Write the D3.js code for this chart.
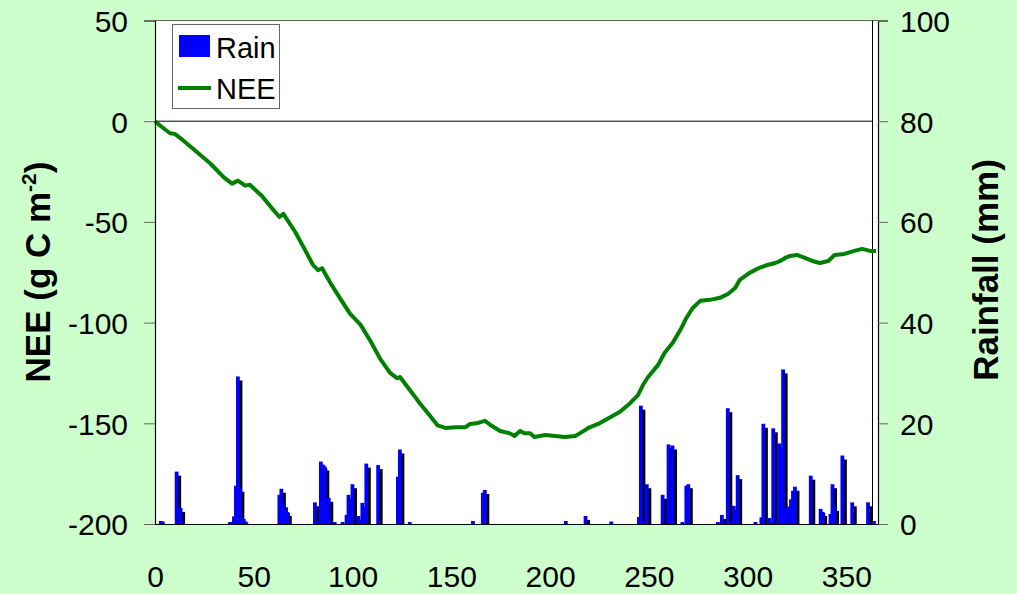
<!DOCTYPE html>
<html>
<head>
<meta charset="utf-8">
<script src="https://cdn.jsdelivr.net/npm/d3@7"></script>
<style>
  body { margin:0; background:#ccffcc; }
  svg { display:block; font-family:Arial, "Liberation Sans", sans-serif; }
</style>
</head>
<body>
<div id="canvas"></div>
<script>
// daily rainfall (day of year, mm)
var rainDays = [2,3,10,12,13,37,38,39,40,41,42,43,44,45,62,63,64,65,66,67,
    80,81,82,83,84,85,86,87,90,94,96,97,98,99,102,104,106,112,122,123,128,
    160,165,166,207,217,230,244,245,247,248,256,259,260,261,266,268,269,
    284,286,289,290,292,294,303,306,307,310,312,315,316,317,319,320,321,322,323,
    331,336,337,341,342,343,347,352,360,363];
var rainMm = [0.6,0.5,10.4,3.2,0.3,0.4,0.4,1.5,7.6,29.3,7.2,1.2,1.0,0.5,5.8,7.0,4.1,3.0,2.4,0.3,
    4.3,0.4,0.4,12.4,11.8,11.4,2.0,5.2,0.4,0.4,1.8,5.8,3.0,7.9,1.6,4.2,12.0,11.7,9.4,14.8,0.4,
    0.6,6.2,6.75,0.6,1.6,0.5,1.4,23.5,0.5,7.9,5.8,15.8,3.0,15.6,0.4,7.6,7.9,
    0.4,1.8,23.0,0.5,3.6,9.7,0.4,1.3,19.9,1.2,19.0,16.0,3.0,30.7,3.1,3.5,4.9,6.6,7.4,
    9.6,3.0,2.4,2.0,7.9,3.4,13.6,4.3,4.3,0.6];

// cumulative NEE (day of year, g C m-2)
var neeDays = [0,3,7.6,10,14,20,28,35,39,42,45.6,48,54,59,63,65,71,76,80,82.5,84.6,88.6,93.7,98.7,
    104,109,114,119,122.5,124,129,134,139,143,147,152,157,159.5,163.5,167,169.6,174.7,179.7,182,
    184.8,187,190,192,197.5,202.5,207.6,212.7,215,220,225,230,235.4,240.5,244.5,247,249.6,254.7,
    258,262.3,266,269,272,276,281,286,290,293.7,296,301,306,310,314,316.5,319,321.5,325,329,
    332.7,336.7,340.8,344,349,354,358,362,365];
var neeVals = [0,-2.5,-6,-6.3,-9.3,-14.3,-21,-28,-31,-29.5,-32,-31.6,-37,-43,-47.6,-46,-55,-64,-71.4,-74,-73,-80,-88,-95.5,
    -101,-109,-118,-125,-127.6,-127,-133.5,-140,-146,-151,-152.3,-152,-152,-150.3,-149.8,-148.8,-150.7,-153.8,-155,-156.3,
    -153.8,-155,-155,-156.8,-155.8,-156.3,-156.8,-156.3,-155,-152,-150,-147.3,-144.3,-140,-136,-131,-127,-121,
    -115,-109.7,-103.6,-97.7,-93,-89.2,-88.7,-87.7,-85.8,-82.8,-78.8,-75.3,-72.8,-71.4,-70.4,-69.4,-67.9,-66.9,-66.4,-67.9,
    -69.4,-70.4,-69.4,-66.4,-65.9,-64.4,-63.4,-64.4,-64.4];

var xTicks = [0,50,100,150,200,250,300,350];
var neeTicks = [-200,-150,-100,-50,0,50];
var rainTicks = [0,20,40,60,80,100];

var W = 1017, H = 594;
var svg = d3.select('#canvas').append('svg').attr('width', W).attr('height', H);

var x = d3.scaleLinear().domain([0,366]).range([155,878]);
var yN = d3.scaleLinear().domain([-200,50]).range([524,20.5]);
var yR = d3.scaleLinear().domain([0,100]).range([524,20.5]);

var plain = function(d){ return String(d); };   // hyphen minus, like the original

svg.append('rect').attr('width',W).attr('height',H).attr('fill','#ccffcc');
svg.append('rect').attr('x',155).attr('y',20.5).attr('width',723).attr('height',503.5).attr('fill','#fff');

// frame
svg.append('line').attr('x1',155).attr('x2',878).attr('y1',20.5).attr('y2',20.5).attr('stroke','#666');
svg.append('line').attr('x1',872.5).attr('x2',872.5).attr('y1',20.5).attr('y2',524).attr('stroke','#000');
svg.append('line').attr('x1',155).attr('x2',872.5).attr('y1',yN(0)).attr('y2',yN(0)).attr('stroke','#000');

// rain bars: black shadow first, then blue
var rain = rainDays.map(function(d,i){ return {day:d, mm:rainMm[i]}; });
var bw = 3.8;
svg.append('g').selectAll('rect').data(rain).enter().append('rect')
    .attr('x', function(d){ return x(d.day)+2.6; })
    .attr('y', function(d){ return Math.min(yR(d.mm)+4, 524); })
    .attr('width', bw)
    .attr('height', function(d){ return Math.max(524-(yR(d.mm)+4), 0); })
    .attr('fill','#000');
svg.append('g').selectAll('rect').data(rain).enter().append('rect')
    .attr('x', function(d){ return x(d.day); })
    .attr('y', function(d){ return yR(d.mm); })
    .attr('width', bw)
    .attr('height', function(d){ return 524-yR(d.mm); })
    .attr('fill','#0000ff');

// NEE line
var nee = neeDays.map(function(d,i){ return {day:d, v:neeVals[i]}; });
svg.append('path').datum(nee)
    .attr('d', d3.line().x(function(d){ return x(d.day); }).y(function(d){ return yN(d.v); }))
    .attr('fill','none').attr('stroke','#008000').attr('stroke-width',4)
    .attr('stroke-linejoin','round');

// axes
var axL = svg.append('g').attr('transform','translate(155,0)')
    .call(d3.axisLeft(yN).tickValues(neeTicks).tickFormat(plain).tickSize(11).tickPadding(16));
var axR = svg.append('g').attr('transform','translate(878,0)')
    .call(d3.axisRight(yR).tickValues(rainTicks).tickFormat(plain).tickSize(10).tickPadding(12));
var axB = svg.append('g').attr('transform','translate(0,524)')
    .call(d3.axisBottom(x).tickValues(xTicks).tickFormat(plain).tickSize(0).tickPadding(20));
[axL, axR, axB].forEach(function(a){
    a.selectAll('text').attr('font-size',30).attr('font-family','Arial, "Liberation Sans", sans-serif').attr('fill','#000');
    a.selectAll('.tick line').attr('stroke','#666');
    a.select('.domain').attr('stroke','#000').attr('stroke-width',1.2);
});
axL.selectAll('text').attr('dy','0.36em');
axR.selectAll('text').attr('dy','0.36em');
axB.selectAll('text').attr('y',0).attr('dy',63);

// axis titles
svg.append('text').attr('transform','translate(50,272) rotate(-90)')
    .attr('text-anchor','middle').attr('font-size',35).attr('font-weight','bold')
    .text('NEE (g C m')
    .append('tspan').attr('font-size',21).attr('dy',-14).text('-2')
    .select(function(){ return this.parentNode; })
    .append('tspan').attr('dy',14).text(')');
svg.append('text').attr('transform','translate(998,270) rotate(-90)')
    .attr('text-anchor','middle').attr('font-size',35).attr('font-weight','bold')
    .text('Rainfall (mm)');

// legend
var lg = svg.append('g');
lg.append('rect').attr('x',172.5).attr('y',24.5).attr('width',107).attr('height',84)
    .attr('fill','#fff').attr('stroke','#666');
lg.append('rect').attr('x',179).attr('y',35).attr('width',31).attr('height',22).attr('fill','#0000ff');
lg.append('line').attr('x1',178).attr('x2',211).attr('y1',88).attr('y2',88)
    .attr('stroke','#008000').attr('stroke-width',4);
lg.append('text').attr('x',216).attr('y',58).attr('font-size',29).text('Rain');
lg.append('text').attr('x',216).attr('y',99).attr('font-size',29).text('NEE');
</script>
</body>
</html>
